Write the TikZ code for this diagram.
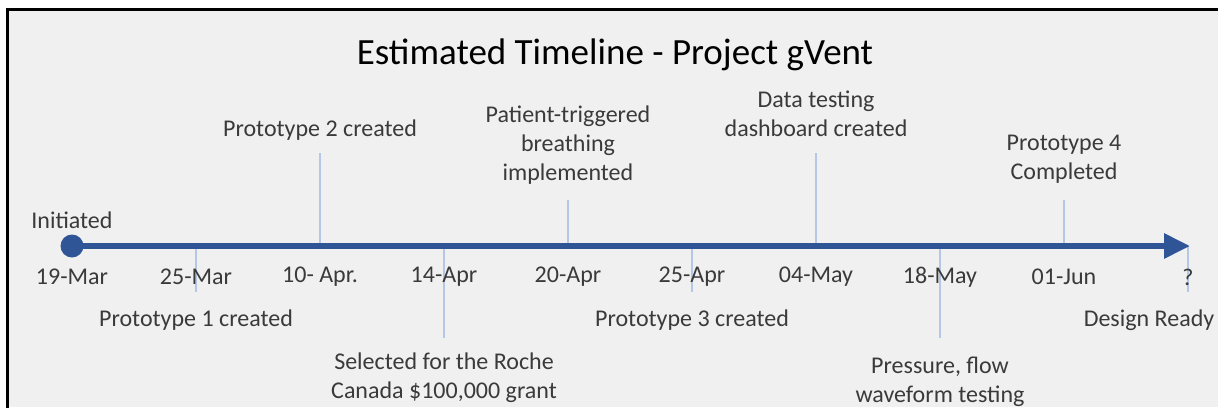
\documentclass[tikz,border=0pt]{standalone}
\usepackage{fontspec}
\setmainfont{Carlito}
\usetikzlibrary{arrows.meta}
\definecolor{bgc}{HTML}{F0F0F0}
\definecolor{axisc}{HTML}{2F5597}
\definecolor{tickc}{HTML}{B4C7E7}
\definecolor{txtc}{HTML}{3A3A3A}
\tikzset{
  lbl/.style={text=txtc, font=\fontsize{24}{29}\selectfont, align=center, inner sep=0pt},
  datelbl/.style={text=txtc, font=\fontsize{24}{28}\selectfont, inner sep=0pt},
  tickline/.style={draw=tickc, line width=2pt},
}
\begin{document}
\begin{tikzpicture}[x=1pt,y=-1pt]
\useasboundingbox (0,0) rectangle (1218,407);
\fill[bgc] (8,10) rectangle (1218,407);
\draw[line width=3pt] (7,420) -- (7,9) -- (1230,9);
\node[text=black, font=\fontsize{37}{42}\selectfont, inner sep=0pt] (title) at (615,55) {Estimated Timeline - Project gVent};
% ticks
\coordinate (t1) at (196,246); \coordinate (t1e) at (196,292);
\coordinate (t2) at (320,246); \coordinate (t2e) at (320,153);
\coordinate (t3) at (444,246); \coordinate (t3e) at (444,338);
\coordinate (t4) at (568,246); \coordinate (t4e) at (568,200);
\coordinate (t5) at (692,246); \coordinate (t5e) at (692,292);
\coordinate (t6) at (816,246); \coordinate (t6e) at (816,153);
\coordinate (t7) at (940,246); \coordinate (t7e) at (940,338);
\coordinate (t8) at (1064,246); \coordinate (t8e) at (1064,200);
\coordinate (t9) at (1188,246); \coordinate (t9e) at (1188,292);
\foreach \i in {1,...,9} { \draw[tickline] (t\i) -- (t\i e); }
% dates
\node[datelbl] (d0) at (72,277) {19-Mar};
\node[datelbl] (d1) at (196,277) {25-Mar};
\node[datelbl] (d2) at (320,277) {10- Apr.};
\node[datelbl] (d3) at (444,277) {14-Apr};
\node[datelbl] (d4) at (568,277) {20-Apr};
\node[datelbl] (d5) at (692,277) {25-Apr};
\node[datelbl] (d6) at (816,277) {04-May};
\node[datelbl] (d7) at (940,277) {18-May};
\node[datelbl] (d8) at (1064,277) {01-Jun};
\node[datelbl] (d9) at (1188,277) {?};
% axis
\node[circle, fill=axisc, minimum size=23pt, inner sep=0pt] (start) at (72,246) {};
\coordinate (end) at (1190,246);
\draw[axisc, line width=6pt, -{Triangle[length=26pt,width=24pt]}] (start.center) -- (end);
% labels
\node[lbl] (l0) at (72,220) {Initiated};
\node[lbl] (l1) at (196,320) {Prototype 1 created};
\node[lbl] (l2) at (320,130) {Prototype 2 created};
\node[lbl] (l3) at (444,378) {Selected for the Roche\\Canada \$100,000 grant};
\node[lbl] (l4) at (568,145) {Patient-triggered\\breathing\\implemented};
\node[lbl] (l5) at (692,320) {Prototype 3 created};
\node[lbl] (l6) at (816,114) {Data testing\\dashboard created};
\node[lbl] (l7) at (940,382) {Pressure, flow\\waveform testing};
\node[lbl] (l8) at (1064,159) {Prototype 4\\Completed};
\node[lbl] (l9) at (1149,320) {Design Ready};
\end{tikzpicture}
\end{document}
